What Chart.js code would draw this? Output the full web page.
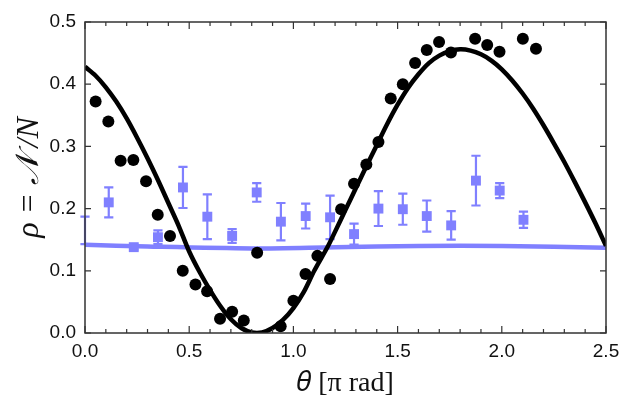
<!DOCTYPE html>
<html><head><meta charset="utf-8">
<script src="https://cdn.jsdelivr.net/npm/chart.js@4.4.1/dist/chart.umd.min.js"></script>
<style>html,body{margin:0;padding:0;background:#fff}</style>
</head><body>
<canvas id="c" width="630" height="409"></canvas>
<script>
// ---- data ----
const curveX = [0,0.05,0.1,0.15,0.2,0.25,0.3,0.35,0.4,0.45,0.5,0.55,0.6,0.65,0.7,0.75,0.8,0.85,0.9,0.95,1.0,1.05,1.1,1.165,1.2,1.25,1.3,1.35,1.4,1.45,1.5,1.55,1.6,1.65,1.7,1.75,1.8,1.85,1.9,1.95,2.0,2.05,2.1,2.15,2.2,2.25,2.3,2.35,2.4,2.45,2.5];
const curveY = [0.428,0.414,0.395,0.372,0.345,0.314,0.281,0.246,0.209,0.172,0.131,0.098,0.069,0.043,0.022,0.008,0.001,0.001,0.008,0.021,0.040,0.066,0.100,0.139,0.163,0.198,0.233,0.268,0.302,0.336,0.367,0.394,0.416,0.434,0.446,0.453,0.456,0.454,0.448,0.438,0.424,0.406,0.385,0.361,0.334,0.305,0.275,0.243,0.210,0.176,0.140];
const blueLineX = [0,0.3,0.8,1.2,1.6,2.0,2.5];
const blueLineY = [0.142,0.139,0.136,0.138,0.140,0.140,0.137];
const dotX = [0.051,0.112,0.171,0.232,0.293,0.349,0.408,0.469,0.530,0.586,0.648,0.706,0.762,0.826,0.939,1.000,1.058,1.115,1.176,1.229,1.291,1.350,1.408,1.467,1.525,1.584,1.640,1.699,1.756,1.872,1.930,1.989,2.101,2.164];
const dotY = [0.372,0.340,0.277,0.278,0.244,0.190,0.156,0.100,0.078,0.067,0.023,0.034,0.020,0.129,0.011,0.052,0.095,0.124,0.087,0.199,0.240,0.271,0.307,0.377,0.400,0.434,0.455,0.468,0.451,0.473,0.463,0.452,0.473,0.457];
const sqX = [0,0.114,0.234,0.350,0.470,0.587,0.706,0.824,0.940,1.059,1.176,1.291,1.408,1.525,1.640,1.757,1.876,1.990,2.104];
const sqY = [0.165,0.210,0.138,0.154,0.234,0.187,0.156,0.226,0.179,0.188,0.186,0.159,0.200,0.199,0.188,0.173,0.245,0.229,0.182];
const sqErr = [0.022,0.024,0.004,0.011,0.033,0.036,0.011,0.015,0.030,0.020,0.035,0.017,0.028,0.025,0.025,0.023,0.040,0.012,0.013];
const xTicks = [0,0.5,1.0,1.5,2.0,2.5];
const yTicks = [0,0.1,0.2,0.3,0.4,0.5];
const xTitle = '\u{1D703} [\u03C0 rad]';
const yTitle = '\u03C1 = \u{1D4A9}\u2009/N';

const BLUE = 'rgb(128,128,255)';
const pts = (xs, ys) => xs.map((x, i) => ({x, y: ys[i]}));

const errorBars = {
  id: 'errorBars',
  afterDatasetDraw(chart, args) {
    if (args.index !== 3) return;
    const ctx = chart.ctx, xs = chart.scales.x, ys = chart.scales.y;
    ctx.save();
    ctx.strokeStyle = BLUE; ctx.lineWidth = 2.2;
    sqX.forEach((x, i) => {
      const px = xs.getPixelForValue(x);
      const top = ys.getPixelForValue(sqY[i] + sqErr[i]);
      const bot = ys.getPixelForValue(sqY[i] - sqErr[i]);
      ctx.beginPath();
      ctx.moveTo(px, top); ctx.lineTo(px, bot);
      ctx.moveTo(px - 4.6, top); ctx.lineTo(px + 4.6, top);
      ctx.moveTo(px - 4.6, bot); ctx.lineTo(px + 4.6, bot);
      ctx.stroke();
    });
    ctx.restore();
  }
};

const frame = {
  id: 'frame',
  afterDatasetsDraw(chart) {
    const ctx = chart.ctx, a = chart.chartArea, xs = chart.scales.x, ys = chart.scales.y;
    ctx.save();
    ctx.strokeStyle = '#333'; ctx.lineWidth = 1.5;
    ctx.strokeRect(a.left, a.top, a.right - a.left, a.bottom - a.top);
    ctx.lineWidth = 1.2;
    ctx.beginPath();
    for (let k = 0; k <= 25; k++) {
      const v = k / 10, px = xs.getPixelForValue(v);
      const len = (k % 5 === 0) ? 7 : 4;
      ctx.moveTo(px, a.bottom); ctx.lineTo(px, a.bottom - len);
      ctx.moveTo(px, a.top); ctx.lineTo(px, a.top + len);
    }
    for (let k = 0; k <= 5; k++) {
      const py = ys.getPixelForValue(k / 10);
      ctx.moveTo(a.left, py); ctx.lineTo(a.left + 6, py);
      ctx.moveTo(a.right, py); ctx.lineTo(a.right - 6, py);
    }
    ctx.stroke();
    ctx.restore();
  }
};

new Chart(document.getElementById('c'), {
  type: 'scatter',
  data: {
    datasets: [
      {type: 'scatter', data: pts(dotX, dotY), backgroundColor: '#000', borderColor: '#000', pointRadius: 6, pointBorderWidth: 0, order: 0},
      {type: 'line', data: pts(curveX, curveY), borderColor: '#000', borderWidth: 4.5, pointRadius: 0, tension: 0.3, fill: false, order: 1},
      {type: 'line', data: pts(blueLineX, blueLineY), borderColor: BLUE, borderWidth: 4.5, pointRadius: 0, tension: 0.3, fill: false, order: 3},
      {type: 'scatter', data: pts(sqX, sqY), backgroundColor: BLUE, borderColor: BLUE, pointStyle: 'rect', pointRadius: sqX.map((x, i) => i === 0 ? 0 : 7), pointBorderWidth: 0, order: 2}
    ]
  },
  options: {
    responsive: false,
    animation: false,
    events: [],
    layout: {padding: {top: 22, right: 24, left: 0, bottom: 0}},
    plugins: {legend: {display: false}, tooltip: {enabled: false}},
    scales: {
      x: {
        type: 'linear', min: 0, max: 2.5,
        afterBuildTicks: s => { s.ticks = xTicks.map(v => ({value: v})); },
        afterFit: s => { s.height = 76; },
        ticks: {callback: v => v.toFixed(1), font: {family: 'Liberation Sans, Arial, sans-serif', size: 19}, color: '#111', padding: 7, maxRotation: 0},
        grid: {display: false, drawTicks: false},
        border: {display: false},
        title: {display: true, text: xTitle, font: {family: 'Liberation Serif, DejaVu Serif, serif', size: 28}, color: '#111', padding: {top: 0, bottom: 9}}
      },
      y: {
        type: 'linear', min: 0, max: 0.5,
        afterBuildTicks: s => { s.ticks = yTicks.map(v => ({value: v})); },
        afterFit: s => { s.width = 85; },
        ticks: {callback: v => v.toFixed(1), font: {family: 'Liberation Sans, Arial, sans-serif', size: 19}, color: '#111', padding: 9},
        grid: {display: false, drawTicks: false},
        border: {display: false},
        title: {display: true, text: yTitle, font: {family: 'Liberation Serif, DejaVu Serif, serif', size: 32, style: 'italic'}, color: '#111', padding: {top: 10, bottom: 0}}
      }
    }
  },
  plugins: [errorBars, frame]
});
</script>
</body></html>
